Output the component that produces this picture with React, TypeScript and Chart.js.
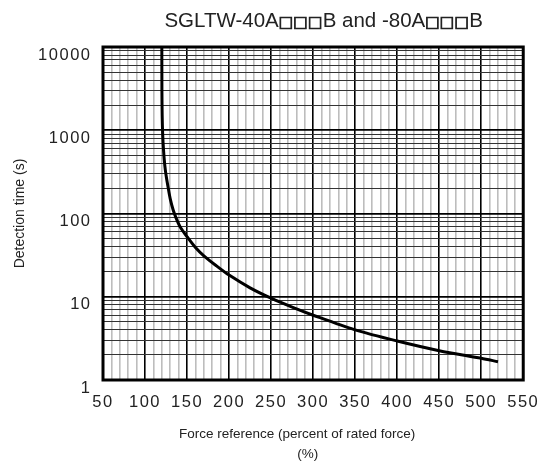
import React, { useEffect, useRef } from "react";
import { Chart, registerables } from "chart.js";

Chart.register(...registerables);

const titleText = "SGLTW-40A\u25A1\u25A1\u25A1B and -80A\u25A1\u25A1\u25A1B";
const xTitle = ["Force reference (percent of rated force)", "(%)"];
const yTitle = "Detection time (s)";

const forcePercent = [120, 120.1, 120.4, 121, 122, 123.5, 125, 127.5, 130, 133.5, 137, 141.5, 150, 160, 170, 185, 200, 225, 250, 275, 300, 350, 400, 450, 500, 520];
const detectionTime = [10000, 3000, 1500, 900, 580, 380, 290, 205, 150, 110, 88, 70, 52.6, 39, 31, 23.5, 18.2, 12.8, 9.6, 7.5, 6.0, 4.0, 2.94, 2.25, 1.82, 1.66];

const xMin = 50;
const xMax = 550;
const xMinorStep = 10;
const xLabelStep = 50;
const yDecades = [1, 10, 100, 1000, 10000];
const yMinorMultipliers = [1, 2, 3, 4, 5, 6, 7, 8, 9];

const FONT = '"Liberation Sans", Arial, Helvetica, sans-serif';
const BOX = "\u25A1";

export default function App() {
  const ref = useRef<HTMLCanvasElement | null>(null);

  useEffect(() => {
    if (!ref.current) return;
    const yTickValues: number[] = [];
    yDecades.forEach((d, i) => {
      if (i === yDecades.length - 1) {
        yTickValues.push(d);
      } else {
        yMinorMultipliers.forEach((m) => yTickValues.push(d * m));
      }
    });

    const textFont = `20.5px ${FONT}`;
    const boxFont = `bold 15.5px "DejaVu Sans", sans-serif`;

    const frame = {
      id: "frame",
      afterDatasetsDraw(chart: any) {
        (chart.ctx as any).letterSpacing = "1.5px";
      },
      afterDraw(chart: any) {
        const { ctx, chartArea } = chart;
        (ctx as any).letterSpacing = "0px";
        const w = chartArea.right - chartArea.left;
        ctx.save();
        ctx.strokeStyle = "#000";
        ctx.lineWidth = 3;
        ctx.strokeRect(chartArea.left, chartArea.top, w, chartArea.bottom - chartArea.top);
        // title, drawn piece by piece so the box glyphs can be bolder
        const parts: { t: string; box: boolean }[] = [];
        for (const ch of Array.from(titleText)) {
          const isBox = ch === BOX;
          const last = parts[parts.length - 1];
          if (last && last.box === isBox) last.t += ch;
          else parts.push({ t: ch, box: isBox });
        }
        let total = 0;
        const widths = parts.map((p) => {
          ctx.font = p.box ? boxFont : textFont;
          const pw = ctx.measureText(p.t).width;
          total += pw;
          return pw;
        });
        const cx = chartArea.left + w * 0.525;
        let x = cx - total / 2;
        ctx.fillStyle = "#222";
        ctx.strokeStyle = "#222";
        ctx.textAlign = "left";
        ctx.textBaseline = "alphabetic";
        const baseY = 26.5;
        parts.forEach((p, i) => {
          ctx.font = p.box ? boxFont : textFont;
          ctx.fillText(p.t, x, baseY);
          if (p.box) {
            ctx.lineWidth = 0.8;
            ctx.strokeText(p.t, x, baseY);
          }
          x += widths[i];
        });
        // x-axis title (two lines, as in the reference)
        ctx.font = `13.5px ${FONT}`;
        ctx.textAlign = "center";
        ctx.fillText(xTitle[0], chartArea.left + w * 0.462, 437.5);
        ctx.fillText(xTitle[1], chartArea.left + w * 0.487, 457.5);
        ctx.restore();
      },
    };

    const chart = new Chart(ref.current, {
      type: "line",
      data: {
        datasets: [
          {
            data: forcePercent.map((x, i) => ({ x, y: detectionTime[i] })),
            borderColor: "#000",
            borderWidth: 3,
            pointRadius: 0,
            tension: 0.3,
            fill: false,
          },
        ],
      },
      options: {
        animation: false,
        responsive: true,
        maintainAspectRatio: false,
        layout: { padding: { top: 47, right: 25, left: 0, bottom: 0 } },
        plugins: {
          legend: { display: false },
          tooltip: { enabled: false },
          title: { display: false },
        },
        scales: {
          x: {
            type: "linear",
            min: xMin,
            max: xMax,
            afterFit(scale: any) {
              scale.height = 91;
            },
            ticks: {
              z: 1,
              stepSize: xMinorStep,
              autoSkip: false,
              maxRotation: 0,
              padding: 13,
              color: "#222",
              font: { family: FONT, size: 16.5 },
              callback: (v: any) => (Number(v) % xLabelStep === 0 ? String(v) : ""),
            },
            grid: {
              drawTicks: false,
              color: (c: any) => (c.tick && c.tick.value % xLabelStep === 0 ? "#000" : "#bdbdbd"),
              lineWidth: 1.6,
            },
            border: { display: false },
            title: { display: false },
          },
          y: {
            type: "logarithmic",
            min: 1,
            max: 10000,
            afterFit(scale: any) {
              scale.width = 103;
            },
            afterBuildTicks(scale: any) {
              scale.ticks = yTickValues.map((v) => ({ value: v, major: yDecades.includes(v) }));
            },
            ticks: {
              z: 1,
              autoSkip: false,
              padding: 11.5,
              labelOffset: 8,
              color: "#222",
              font: { family: FONT, size: 16.5 },
              callback: (v: any) => (yDecades.includes(Number(v)) ? String(v) : ""),
            },
            grid: {
              drawTicks: false,
              color: (c: any) => (c.tick && yDecades.includes(c.tick.value) ? "#000" : "#333"),
              lineWidth: (c: any) => (c.tick && yDecades.includes(c.tick.value) ? 1.8 : 1),
            },
            border: { display: false },
            title: {
              display: true,
              text: yTitle,
              color: "#222",
              font: { family: FONT, size: 14, lineHeight: 1.2 },
              padding: { top: 12, bottom: 0 },
            },
          },
        },
      },
      plugins: [frame],
    });
    return () => chart.destroy();
  }, []);

  return (
    <div style={{ position: "fixed", left: 0, top: 0, width: 550, height: 471, background: "#fff" }}>
      <canvas ref={ref} />
    </div>
  );
}
